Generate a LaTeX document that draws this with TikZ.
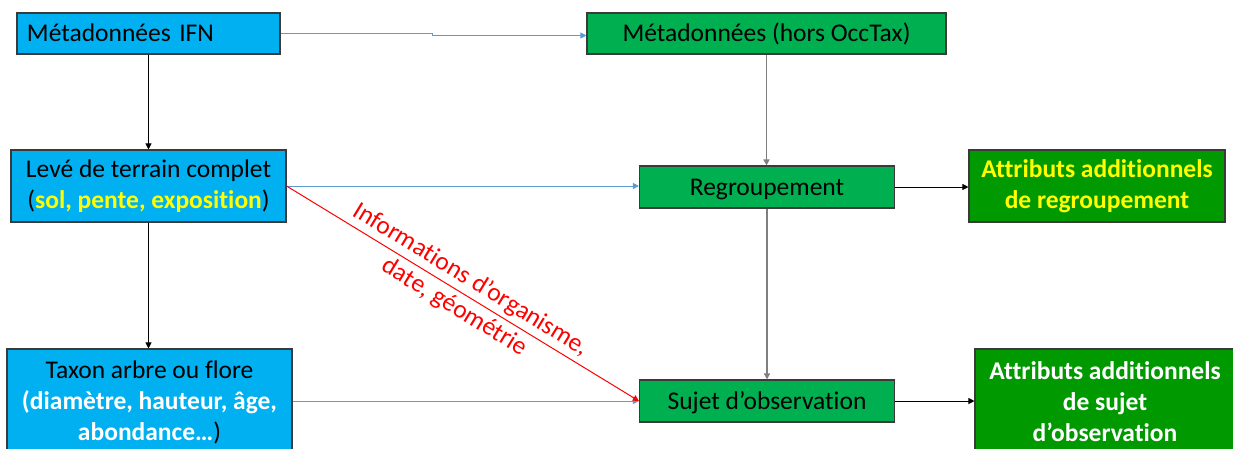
\documentclass[tikz,border=0pt]{standalone}
\usepackage{fontspec}
\setmainfont{Carlito}[Ligatures=NoCommon]
\usetikzlibrary{arrows.meta}
\definecolor{boxblue}{HTML}{00B0F0}
\definecolor{boxgreen}{HTML}{00B050}
\definecolor{boxdkgreen}{HTML}{009A00}
\definecolor{linkblue}{HTML}{5B9BD5}
\definecolor{linkgray}{HTML}{7F7F7F}
\definecolor{txtyellow}{HTML}{FFFF00}
\definecolor{bordergray}{HTML}{3A3A3A}
\tikzset{
  basebox/.style={draw=bordergray, line width=1.1pt, inner sep=0pt, align=center,
    font=\fontsize{25.5}{31}\selectfont},
  oneline/.style={text height=19pt, text depth=3pt},
  bluebox/.style={basebox, fill=boxblue},
  greenbox/.style={basebox, fill=boxgreen},
  dkbox/.style={basebox, fill=boxdkgreen, font=\fontsize{25.5}{31}\selectfont\bfseries},
  tip/.style={-{Triangle[width=6pt,length=6pt]}},
  bluelink/.style={tip, draw=linkblue, line width=1pt},
  graylink/.style={tip, draw=linkgray, line width=1.5pt},
  blacklink/.style={tip, draw=black, line width=1pt},
  redlink/.style={tip, draw=red, line width=1pt},
}
\begin{document}
\begin{tikzpicture}[x=1pt,y=-1pt]
\useasboundingbox (0,0) rectangle (1233,448);
\node[bluebox, oneline, minimum width=263pt, minimum height=41pt, align=left, text width=243pt] (ifn) at (148.5,33.5) {Métadonnées IFN};
\node[greenbox, oneline, minimum width=359pt, minimum height=41pt] (hors) at (766.5,33.5) {Métadonnées (hors OccTax)};
\node[bluebox, minimum width=275pt, minimum height=72pt] (leve) at (148.5,186) {Levé de terrain complet\\(\textbf{\color{txtyellow}sol, pente, exposition})};
\node[bluebox, minimum width=285pt, minimum height=106pt] (taxon) at (149.5,402) {Taxon arbre ou flore\\\textbf{\color{white}(diamètre, hauteur, âge,}\\\textbf{\color{white}abondance…})};
\node[greenbox, oneline, minimum width=255pt, minimum height=42pt] (regr) at (767,187) {Regroupement};
\node[dkbox, minimum width=256pt, minimum height=72pt, text=txtyellow] (attrR) at (1097,186) {Attributs additionnels\\de regroupement};
\node[greenbox, oneline, minimum width=255pt, minimum height=42pt] (sujet) at (767,401) {Sujet d’observation};
\node[dkbox, minimum width=260pt, minimum height=106pt, text=white] (attrS) at (1105,402) {Attributs additionnels\\de sujet\\d’observation};

\draw[bluelink] (ifn.east) -- ++(152,0) -- ++(0,2) -- (hors.west |- 0,35.5);
\draw[blacklink] (ifn.south) -- (ifn.south |- leve.north);
\draw[blacklink] (leve.south) -- (leve.south |- taxon.north);
\draw[bluelink] (leve.east) -- (regr.west |- leve.east);
\draw[bluelink] (taxon.east |- sujet.west) -- (sujet.west);
\draw[graylink] (hors.south) -- (hors.south |- regr.north);
\draw[graylink] (regr.south) -- (sujet.north);
\draw[blacklink] (regr.east) -- (attrR.west |- regr.east);
\draw[blacklink] (sujet.east) -- (attrS.west |- sujet.east);
\draw[redlink] (leve.east) -- node[sloped, midway, text=red, align=center, font=\fontsize{25.5}{32}\selectfont] {Informations d’organisme,\\date, géométrie} (sujet.west);
\end{tikzpicture}
\end{document}
